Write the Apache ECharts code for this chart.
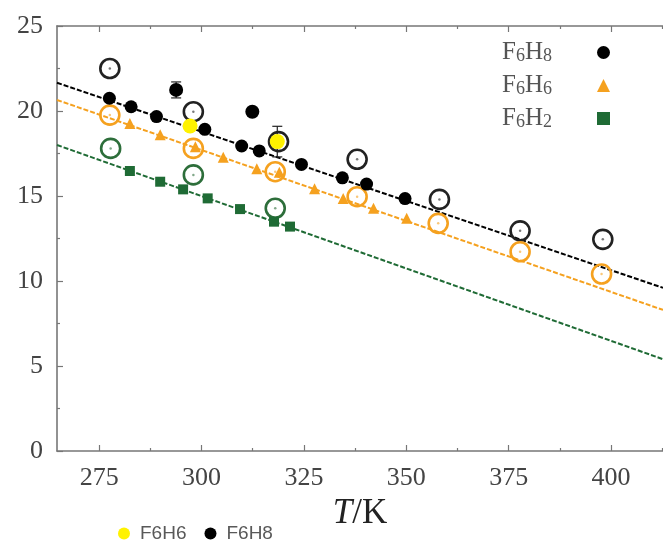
<!DOCTYPE html>
<html>
<head>
<meta charset="utf-8">
<script src="https://cdn.jsdelivr.net/npm/echarts@6/dist/echarts.min.js"></script>
<style>html,body{margin:0;padding:0;background:#fff}#c{width:663px;height:542px}</style>
</head>
<body>
<div id="c"></div>
<script>
// ---- axis ranges & ticks ----
const tMin = 264.7, tMax = 412.7;
const xMajor = [275, 300, 325, 350, 375, 400];
const xMinor = [287.5, 312.5, 337.5, 362.5, 387.5, 412.5];

// ---- experimental points (filled) ----
const h8T = [277.5, 282.8, 289.0, 300.8, 309.8, 314.1, 324.4, 334.4, 340.3, 349.7];
const h8V = [20.75, 20.25, 19.67, 18.92, 17.94, 17.65, 16.86, 16.07, 15.70, 14.85];
const h6T = [282.5, 289.9, 298.5, 305.3, 313.5, 319.0, 327.6, 334.6, 342.0, 350.1];
const h6V = [19.27, 18.60, 17.90, 17.28, 16.60, 16.40, 15.42, 14.86, 14.28, 13.69];
const h2T = [282.5, 289.9, 295.5, 301.5, 309.4, 317.7, 321.6];
const h2V = [16.47, 15.84, 15.39, 14.86, 14.23, 13.49, 13.20];

// ---- simulation points (open circles) ----
const simH8T = [277.6, 298.0, 318.8, 338.0, 358.1, 377.8, 398.0];
const simH8V = [22.50, 19.96, 18.20, 17.16, 14.80, 12.95, 12.45];
const simH6T = [277.6, 298.0, 318.0, 338.0, 357.8, 377.8, 397.7];
const simH6V = [19.76, 17.80, 16.43, 14.96, 13.39, 11.72, 10.41];
const simH2T = [277.8, 298.0, 318.0];
const simH2V = [17.80, 16.24, 14.28];

// ---- added points (bottom legend) with error ----
const addH6T = [297.2, 318.5];
const addH6V = [19.12, 18.20];
const addH6Err = [0, 0.9];
const addH8T = [293.8, 312.4];
const addH8V = [21.24, 19.96];
const addH8Err = [0.47, 0];

// ---- fit lines (end points) ----
const fitT = [264.7, 412.7];
const fitH8 = [21.66, 9.60];
const fitH6 = [20.65, 8.30];
const fitH2 = [18.00, 5.40];

const cBlack = '#000000', cOrange = '#f5a11f', cGreen = '#1f6b35', cYellow = '#fff200';

const zip = (a, b) => a.map((v, i) => [v, b[i]]);
const errData = (t, v, e) => t.map((x, i) => [x, v[i] - e[i], v[i] + e[i]]).filter((d, i) => e[i] > 0);

const subMap = {'₀':'0','₁':'1','₂':'2','₃':'3','₄':'4','₅':'5','₆':'6','₇':'7','₈':'8','₉':'9'};
function richName(name) {
  return name.split('').map(ch => subMap[ch] ? '{s|' + subMap[ch] + '}' : '{m|' + ch + '}').join('');
}

function errRender(params, api) {
  const x = api.value(0);
  const lo = api.coord([x, api.value(1)]);
  const hi = api.coord([x, api.value(2)]);
  const w = 5;
  const style = {stroke: '#222', lineWidth: 1.2};
  return {type: 'group', children: [
    {type: 'line', shape: {x1: lo[0], y1: lo[1], x2: hi[0], y2: hi[1]}, style},
    {type: 'line', shape: {x1: hi[0] - w, y1: hi[1], x2: hi[0] + w, y2: hi[1]}, style},
    {type: 'line', shape: {x1: lo[0] - w, y1: lo[1], x2: lo[0] + w, y2: lo[1]}, style}
  ]};
}

const axisLineStyle = {color: '#777', width: 1.6};
const tickStyle = {color: '#777', width: 1.2};
const serif = 'Liberation Serif';

const fitLine = (vals, color, name) => ({
  name: name, type: 'line', data: zip(fitT, vals), symbol: 'none', silent: true,
  lineStyle: {color: color, width: 2, type: [5, 2]}, z: 1, clip: true
});
const ring = (t, v, color, name) => ({
  name: name, type: 'scatter', data: zip(t, v), symbol: 'circle', symbolSize: 19,
  itemStyle: {color: 'rgba(255,255,255,0)', borderColor: color, borderWidth: 2.6, opacity: 1}, z: 3
});
const ringDot = (t, v, color) => ({
  type: 'scatter', data: zip(t, v), symbol: 'circle', symbolSize: 2.5,
  itemStyle: {color: color, opacity: 0.6}, z: 3, silent: true
});

const chart = echarts.init(document.getElementById('c'));
chart.setOption({
  animation: false,
  backgroundColor: '#fff',
  grid: {left: 57, right: 0, top: 26, bottom: 91},
  legend: [{
    data: [{name: 'F₆H₈', icon: 'circle'}, {name: 'F₆H₆', icon: 'triangle'}, {name: 'F₆H₂', icon: 'rect'}],
    orient: 'vertical', align: 'right', right: 48, top: 30, itemGap: 3,
    itemWidth: 13, itemHeight: 13, selectedMode: false,
    formatter: richName,
    textStyle: {
      padding: [0, 40, 0, 0],
      rich: {
        m: {fontFamily: serif, fontSize: 25, color: '#555', lineHeight: 25, verticalAlign: 'top'},
        s: {fontFamily: serif, fontSize: 18, color: '#555', lineHeight: 18, verticalAlign: 'bottom', padding: [12, 0, 0, 0]}
      }
    }
  }, {
    data: ['F6H6', 'F6H8'],
    orient: 'horizontal', left: 113, top: 519, itemGap: 18,
    itemWidth: 12, itemHeight: 12, selectedMode: false,
    textStyle: {fontFamily: 'Liberation Sans', fontSize: 19, color: '#595959', padding: [0, 0, 0, 5]}
  }],
  xAxis: [{
    type: 'value', min: tMin, max: tMax, position: 'bottom',
    axisLine: {show: true, lineStyle: axisLineStyle},
    axisTick: {show: true, inside: true, length: 6, customValues: xMajor, lineStyle: tickStyle},
    axisLabel: {customValues: xMajor, fontFamily: serif, fontSize: 26, color: '#444', margin: 14},
    splitLine: {show: false},
    name: '{it|T}{n|/K}', nameLocation: 'middle', nameGap: 44,
    nameTextStyle: {rich: {
      it: {fontFamily: serif, fontStyle: 'italic', fontSize: 35, color: '#222'},
      n: {fontFamily: serif, fontSize: 35, color: '#222'}
    }}
  }, {
    type: 'value', min: tMin, max: tMax, position: 'bottom',
    axisLine: {show: false},
    axisTick: {show: true, inside: true, length: 3, customValues: xMinor, lineStyle: tickStyle},
    axisLabel: {show: false}, splitLine: {show: false}
  }, {
    type: 'value', min: tMin, max: tMax, position: 'top',
    axisLine: {show: true, lineStyle: axisLineStyle},
    axisTick: {show: true, inside: true, length: 6, customValues: xMajor, lineStyle: tickStyle},
    axisLabel: {show: false}, splitLine: {show: false}
  }, {
    type: 'value', min: tMin, max: tMax, position: 'top',
    axisLine: {show: false},
    axisTick: {show: true, inside: true, length: 3, customValues: xMinor, lineStyle: tickStyle},
    axisLabel: {show: false}, splitLine: {show: false}
  }],
  yAxis: [{
    type: 'value', min: 0, max: 25, interval: 5, position: 'left',
    axisLine: {show: true, lineStyle: axisLineStyle},
    axisTick: {show: true, inside: true, length: 6, lineStyle: tickStyle},
    minorTick: {show: true, splitNumber: 2, length: 3, lineStyle: tickStyle},
    axisLabel: {fontFamily: serif, fontSize: 26, color: '#444', margin: 14},
    splitLine: {show: false}
  }],
  series: [
    fitLine(fitH8, cBlack, 'fit F6H8'),
    fitLine(fitH6, cOrange, 'fit F6H6'),
    fitLine(fitH2, cGreen, 'fit F6H2'),
    ring(simH8T, simH8V, '#222', 'sim F6H8'),
    ring(simH6T, simH6V, cOrange, 'sim F6H6'),
    ring(simH2T, simH2V, '#2d6e3a', 'sim F6H2'),
    ringDot(simH8T, simH8V, '#222'),
    ringDot(simH6T, simH6V, cOrange),
    ringDot(simH2T, simH2V, '#2d6e3a'),
    {name: 'F₆H₈', type: 'scatter', data: zip(h8T, h8V), symbol: 'circle', symbolSize: 13, itemStyle: {color: cBlack, opacity: 1}, z: 4},
    {name: 'F₆H₆', type: 'scatter', data: zip(h6T, h6V), symbol: 'triangle', symbolSize: 11, itemStyle: {color: cOrange, opacity: 1}, z: 4},
    {name: 'F₆H₂', type: 'scatter', data: zip(h2T, h2V), symbol: 'rect', symbolSize: 10, itemStyle: {color: cGreen, opacity: 1}, z: 4},
    {type: 'custom', renderItem: errRender, data: errData(addH8T, addH8V, addH8Err).concat(errData(addH6T, addH6V, addH6Err)), z: 5, silent: true},
    {name: 'F6H8', type: 'scatter', data: zip(addH8T, addH8V), symbol: 'circle', symbolSize: 14, itemStyle: {color: cBlack, opacity: 1}, z: 6},
    {name: 'F6H6', type: 'scatter', data: zip(addH6T, addH6V), symbol: 'circle', symbolSize: 15, itemStyle: {color: cYellow, opacity: 1}, z: 6}
  ]
});
</script>
</body>
</html>
